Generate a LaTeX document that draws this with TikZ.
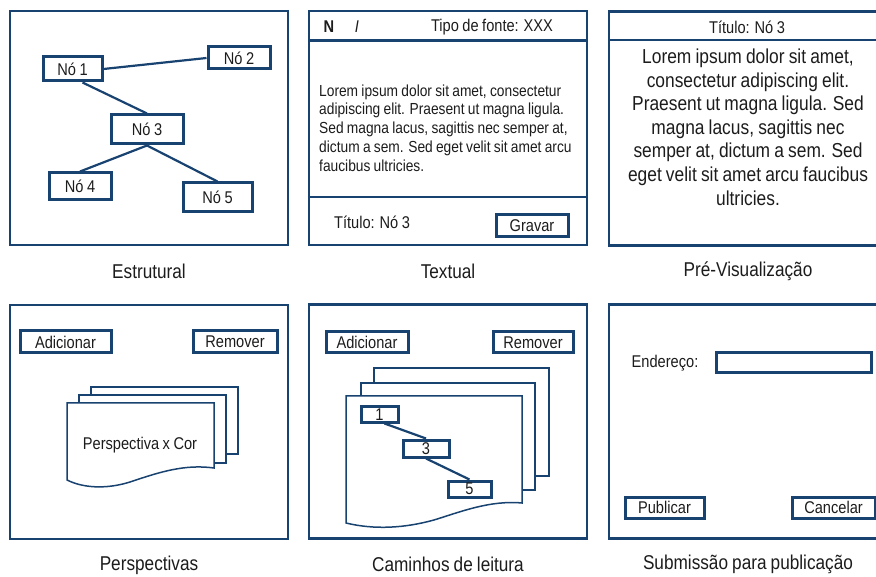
\documentclass[tikz,border=0pt]{standalone}
\usepackage{fontspec}
\setmainfont{Liberation Sans}[FakeStretch=0.86,WordSpace=0.86]
\usetikzlibrary{calc}
\definecolor{navy}{RGB}{24,66,112}
\definecolor{ink}{RGB}{28,28,28}

\begin{document}
\begin{tikzpicture}[x=1pt,y=-1pt,
    panel/.style={draw=navy,line width=2.5pt,rectangle,minimum width=278pt,minimum height=234pt,inner sep=0pt},
    box/.style={draw=navy,line width=3pt,rectangle,inner sep=0pt,text=ink,font=\fontsize{17}{20}\selectfont},
    link/.style={draw=navy,line width=2.2pt},
    sheet/.style={draw=navy,line width=1.5pt,fill=white},
    caption/.style={text=ink,font=\fontsize{20}{24}\selectfont},
    txt/.style={text=ink,font=\fontsize{17}{20}\selectfont}]
  \useasboundingbox (0,0) rectangle (876,577);

  % --- structural view
  \node[panel] (estr) at (149,128) {};
  \node[caption] (capestr) at ($(estr.south)+(0,25)$) {Estrutural};
  \node[box,minimum width=59pt,minimum height=24pt] (n1) at (72.5,69) {Nó 1};
  \node[box,minimum width=62pt,minimum height=22pt] (n2) at (239,58) {Nó 2};
  \node[box,minimum width=72pt,minimum height=29pt] (n3) at (147,129.5) {Nó 3};
  \node[box,minimum width=62pt,minimum height=27pt] (n4) at (80,186.5) {Nó 4};
  \node[box,minimum width=69pt,minimum height=29pt] (n5) at (217.5,197.5) {Nó 5};
  \draw[link]
    (n1.east) -- (n2.west)
    ([xshift=10pt]n1.south) -- (n3.north)
    (n3.south) -- (n4.north)
    (n3.south) -- (n5.north);

  % --- text editor
  \node[panel] (text) at (448,128) {};
  \node[caption] (captext) at ($(text.south)+(0,25)$) {Textual};
  \draw[navy,line width=2.5pt]
    ($(text.north west)+(0,31)$) -- ($(text.north east)+(0,31)$)
    ($(text.south west)+(0,-49)$) -- ($(text.south east)+(0,-49)$);
  \node[txt] (bold) at (329,27) {\bfseries N};
  \node[txt] (ital) at (357,27) {\itshape I};
  \node[txt] (fonte) at (492,27) {Tipo de fonte: XXX};
  \node[text=ink,font=\fontsize{16}{18.8}\selectfont,align=left,anchor=west,inner sep=0pt] (corpo) at (319,128)
    {Lorem ipsum dolor sit amet, consectetur\\adipiscing elit. Praesent ut magna ligula.\\Sed magna lacus, sagittis nec semper at,\\dictum a sem. Sed eget velit sit amet arcu\\faucibus ultricies.};
  \node[txt] (titulo) at (372,222) {Título: Nó 3};
  \node[box,minimum width=72pt,minimum height=22pt] (gravar) at (532,226) {Gravar};

  % --- preview
  \node[panel] (prev) at (748,128.5) {};
  \node[caption] (capprev) at ($(prev.south)+(0,25)$) {Pré-Visualização};
  \draw[navy,line width=2.5pt]
    ($(prev.north west)+(0,30)$) -- ($(prev.north east)+(0,30)$);
  \node[txt] (prevtit) at (747,27) {Título: Nó 3};
  \node[text=ink,font=\fontsize{20.2}{23.6}\selectfont,align=center,inner sep=0pt] (prevcorpo) at (748,127)
    {Lorem ipsum dolor sit amet,\\consectetur adipiscing elit.\\Praesent ut magna ligula. Sed\\magna lacus, sagittis nec\\semper at, dictum a sem. Sed\\eget velit sit amet arcu faucibus\\ultricies.};

  % --- perspectives
  \node[panel] (persp) at (149,422) {};
  \node[caption] (cappersp) at ($(persp.south)+(0,25)$) {Perspectivas};
  \node[box,minimum width=91pt,minimum height=22pt] (padd) at (65.5,342) {Adicionar};
  \node[box,minimum width=84pt,minimum height=22pt] (prem) at (235,342) {Remover};
  \draw[sheet] (91,387) rectangle (238,454);
  \draw[sheet] (79,395) rectangle (226,463);
  \draw[sheet] (67,403) -- (214,403) -- (214,468)
    .. controls (185,464) and (160,472) .. (133,481)
    .. controls (110,489) and (85,489) .. (67,480) -- cycle;
  \node[txt] (pcor) at (140,445) {Perspectiva x Cor};

  % --- reading paths
  \node[panel] (cam) at (448,421.5) {};
  \node[caption] (capcam) at ($(cam.south)+(0,25)$) {Caminhos de leitura};
  \node[box,minimum width=82pt,minimum height=21pt] (cadd) at (367,342.5) {Adicionar};
  \node[box,minimum width=80pt,minimum height=21pt] (crem) at (533,342.5) {Remover};
  \draw[sheet] (374,368) rectangle (549,476);
  \draw[sheet] (361,383) rectangle (535,490);
  \draw[sheet] (346,396) -- (522,396) -- (522,503)
    .. controls (490,500) and (460,512) .. (434,520)
    .. controls (405,528) and (375,530) .. (346,523) -- cycle;
  \node[box,minimum width=37pt,minimum height=15pt] (c1) at (379.5,414.5) {\raisebox{-3pt}{1}};
  \node[box,minimum width=46pt,minimum height=17pt] (c3) at (426,448.5) {\raisebox{-3pt}{3}};
  \node[box,minimum width=43pt,minimum height=16pt] (c5) at (469.5,489) {\raisebox{-3pt}{5}};
  \draw[link]
    ([xshift=5pt]c1.south) -- (c3.north)
    (c3.south) -- (c5.north);

  % --- submission
  \node[panel] (subm) at (748,421.5) {};
  \node[caption] (capsubm) at ($(subm.south)+(0,25)$) {Submissão para publicação};
  \node[txt] (ender) at (665,363) {Endereço:};
  \node[box,minimum width=155pt,minimum height=20pt] (campo) at (793.5,363) {};
  \node[box,minimum width=79pt,minimum height=21pt] (publ) at (664.5,507.5) {Publicar};
  \node[box,minimum width=83pt,minimum height=21pt] (canc) at (833.5,507.5) {Cancelar};
\end{tikzpicture}
\end{document}
